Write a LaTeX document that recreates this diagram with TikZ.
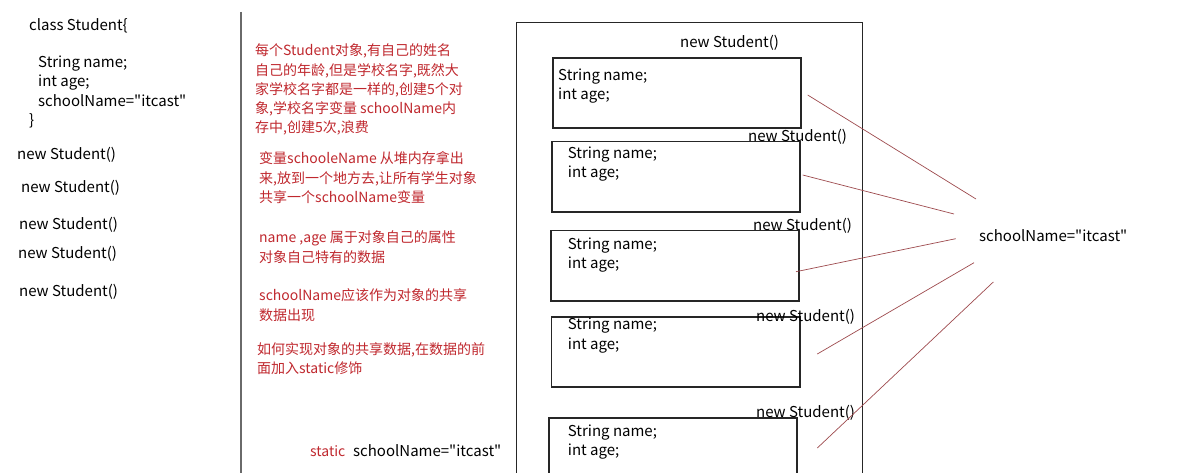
\documentclass[tikz,border=0pt]{standalone}
\usepackage{fontspec}
\setmainfont{Noto Sans CJK SC}[Ligatures=TeXOff]
\definecolor{notered}{HTML}{C0282E}
\definecolor{linkred}{HTML}{9E4A4E}
\definecolor{sepgray}{HTML}{6A6A6A}
\tikzset{
  blk/.style={anchor=base west, inner sep=0pt, font=\fontsize{15}{17}\selectfont, text=black},
  red/.style={anchor=base west, inner sep=0pt, font=\fontsize{14}{16}\selectfont, text=notered},
  objbox/.style={draw=black!85, line width=1.1pt},
  link/.style={draw=linkred, line width=0.7pt},
}
\begin{document}
\begin{tikzpicture}[x=1pt,y=-1pt]
\useasboundingbox (0,0) rectangle (1184,473);
\fill[white] (0,0) rectangle (1184,473);
% left code
\node[blk] (cls) at (29,31) {class Student\{};
\node[blk] (f1) at (38,68) {String name;};
\node[blk] (f2) at (38,87) {int age;};
\node[blk] (f3) at (38,107) {schoolName="itcast"};
\node[blk] (cb) at (29,126) {\}};
\node[blk] (n1) at (17,160) {new Student()};
\node[blk] (n2) at (21,193) {new Student()};
\node[blk] (n3) at (19,230) {new Student()};
\node[blk] (n4) at (18,259) {new Student()};
\node[blk] (n5) at (19,297) {new Student()};
% separator
\draw[draw=sepgray, line width=1.8pt] (241,12) -- (241,473);
% notes
\node[red] (p1a) at (255,56) {每个Student对象,有自己的姓名};
\node[red] (p1b) at (255,76) {自己的年龄,但是学校名字,既然大};
\node[red] (p1c) at (255,95) {家学校名字都是一样的,创建5个对};
\node[red] (p1d) at (255,114) {象,学校名字变量 schoolName内};
\node[red] (p1e) at (255,133) {存中,创建5次,浪费};
\node[red] (p2a) at (259,164) {变量schooleName 从堆内存拿出};
\node[red] (p2b) at (259,184) {来,放到一个地方去,让所有学生对象};
\node[red] (p2c) at (259,203) {共享一个schoolName变量};
\node[red] (p3a) at (259,243) {name ,age 属于对象自己的属性};
\node[red] (p3b) at (259,262) {对象自己特有的数据};
\node[red] (p4a) at (259,301) {schoolName应该作为对象的共享};
\node[red] (p4b) at (259,320) {数据出现};
\node[red] (p5a) at (257,354) {如何实现对象的共享数据,在数据的前};
\node[red] (p5b) at (257,373) {面加入static修饰};
\node[red] (st) at (310,456) {static};
\node[blk] (sn) at (353,456) {schoolName="itcast"};
% heap frame
\draw[draw=black!85, line width=1pt] (516,473) -- (516,22.7) -- (862.7,22.7) -- (862.7,473);
% object boxes
\draw[objbox] (553,58) rectangle (801,128);
\draw[objbox] (552,141.7) rectangle (800,212);
\draw[objbox] (551,230.5) rectangle (799,301);
\draw[objbox] (551.7,317) rectangle (800,387);
\draw[objbox] (549,473) -- (549,418) -- (797,418) -- (797,473);
\node[blk] (s1) at (680,48) {new Student()};
\node[blk] (s2) at (748,142) {new Student()};
\node[blk] (s3) at (753,231) {new Student()};
\node[blk] (s4) at (756,321) {new Student()};
\node[blk] (s5) at (756,417) {new Student()};
\node[blk] (b1a) at (558,81) {String name;};
\node[blk] (b1b) at (558,100) {int age;};
\node[blk] (b2a) at (567.7,159) {String name;};
\node[blk] (b2b) at (567.7,178) {int age;};
\node[blk] (b3a) at (567.7,250) {String name;};
\node[blk] (b3b) at (567.7,269) {int age;};
\node[blk] (b4a) at (567.7,330) {String name;};
\node[blk] (b4b) at (567.7,349) {int age;};
\node[blk] (b5a) at (567.7,436) {String name;};
\node[blk] (b5b) at (567.7,455) {int age;};
% shared
\node[blk] (shared) at (979,242) {schoolName="itcast"};
\coordinate (o1) at (807.7,95);   \coordinate (t1) at (976,199);
\coordinate (o2) at (802.7,175);  \coordinate (t2) at (954,214);
\coordinate (o3) at (796,271.7);  \coordinate (t3) at (955.7,238.7);
\coordinate (o4) at (817.3,354);  \coordinate (t4) at (974,262.7);
\coordinate (o5) at (817.3,448);  \coordinate (t5) at (993.3,282);
\draw[link] (o1) -- (t1);
\draw[link] (o2) -- (t2);
\draw[link] (o3) -- (t3);
\draw[link] (o4) -- (t4);
\draw[link] (o5) -- (t5);
\end{tikzpicture}
\end{document}
